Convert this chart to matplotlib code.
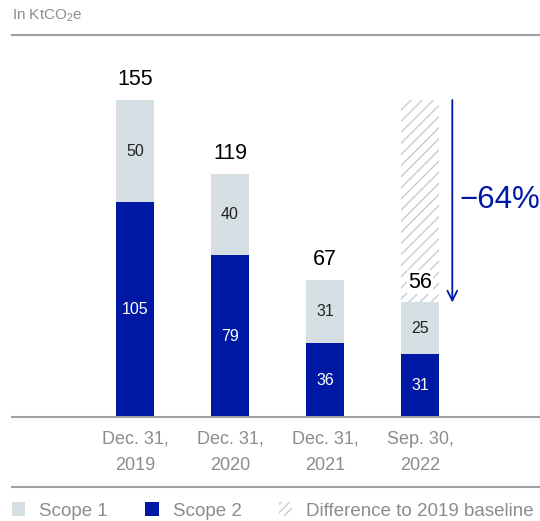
import matplotlib
matplotlib.use("Agg")
import matplotlib.pyplot as plt
from matplotlib.patches import Patch
from matplotlib.lines import Line2D

# data
periods = ["Dec. 31,\n2019", "Dec. 31,\n2020", "Dec. 31,\n2021", "Sep. 30,\n2022"]
scope1 = [50, 40, 31, 25]
scope2 = [105, 79, 36, 31]
totals = [155, 119, 67, 56]
reduction_label = "\u221264%"

BLUE = "#0019a5"
LIGHT = "#d5dfe4"
GREY = "#8c8c8c"
HATCH = "#c9ccd6"

plt.rcParams["font.family"] = ["Liberation Sans", "DejaVu Sans"]
plt.rcParams["mathtext.default"] = "regular"
plt.rcParams["hatch.linewidth"] = 1.0

W, H = 540, 521
fig = plt.figure(figsize=(W / 100, H / 100), dpi=100)

# axes: baseline at y=417px, top rule at y=35px, left at x=12px
ax = fig.add_axes([12 / W, (H - 417) / H, 1 - 12 / W, (417 - 35) / H])
px_per_unit = 95.0
ax.set_xlim((12 - 135) / px_per_unit, (540 - 135) / px_per_unit)
ax.set_ylim(0, (417 - 35) / 2.045)

x = list(range(len(periods)))
width = 0.4

# hatched difference to the 2019 baseline on the last bar
last = len(periods) - 1
ax.bar(x[last], totals[0] - totals[last], width, bottom=totals[last],
       facecolor="white", edgecolor=HATCH, hatch="///", linewidth=0, zorder=1)

ax.bar(x, scope2, width, color=BLUE, zorder=2)
ax.bar(x, scope1, width, bottom=scope2, color=LIGHT, zorder=2)

for i in x:
    ax.text(i, scope2[i] / 2, str(scope2[i]), ha="center", va="center",
            color="white", fontsize=11.5, zorder=3)
    ax.text(i, scope2[i] + scope1[i] / 2, str(scope1[i]), ha="center",
            va="center", color="#222222", fontsize=11.5, zorder=3)
    bg = dict(facecolor="white", edgecolor="none", pad=1) if i == last else None
    ax.text(i, totals[i] + 10, str(totals[i]), ha="center", va="center",
            color="black", fontsize=15.5, bbox=bg, zorder=3)

# reduction arrow
ax_x = x[last] + 0.34
ax.annotate("", xy=(ax_x, totals[last]), xytext=(ax_x, totals[0]),
            arrowprops=dict(arrowstyle="->,head_width=0.35,head_length=0.7",
                            color=BLUE, lw=1.3, shrinkA=0, shrinkB=0))
ax.text(ax_x + 0.08, (totals[0] + totals[last]) / 2 + 0.5, reduction_label,
        ha="left", va="center", color=BLUE, fontsize=22.5)

ax.set_xticks(x)
ax.set_xticklabels(periods, color=GREY, fontsize=13, linespacing=1.7)
ax.tick_params(axis="x", length=0, pad=10)
ax.set_yticks([])
for s in ["left", "right"]:
    ax.spines[s].set_visible(False)
for s in ["top", "bottom"]:
    ax.spines[s].set_color("#a0a0a0")
    ax.spines[s].set_linewidth(1.5)

fig.text(12 / W, 1 - 16 / H, "In KtCO$_2$e", color=GREY, fontsize=11,
         ha="left", va="center")

# rule above legend
fig.add_artist(Line2D([12 / W, 1], [1 - 487 / H] * 2, color="#a0a0a0", lw=1.5))

handles = [Patch(facecolor=LIGHT, edgecolor="none"),
           Patch(facecolor=BLUE, edgecolor="none"),
           Patch(facecolor="white", edgecolor=HATCH, hatch="////", linewidth=0)]
fig.legend(handles, ["Scope 1", "Scope 2", "Difference to 2019 baseline"],
           loc="center left", bbox_to_anchor=(12 / W, 1 - 511 / H), ncol=3,
           frameon=False, fontsize=13.5, labelcolor=GREY, handlelength=0.7,
           handleheight=0.7, handletextpad=0.75, columnspacing=2.0,
           borderaxespad=0, borderpad=0)

fig.savefig("out.png", dpi=100)
